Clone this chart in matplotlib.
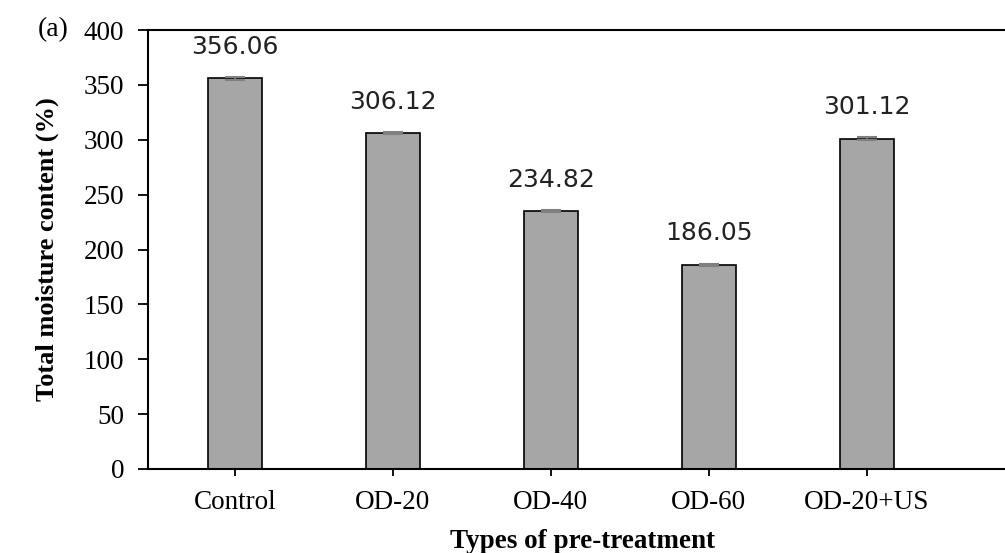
import matplotlib.pyplot as plt
import numpy as np

# moisture content per pre-treatment
treatments = ["Control", "OD-20", "OD-40", "OD-60", "OD-20+US"]
moisture = [356.06, 306.12, 234.82, 186.05, 301.12]
errors = [1.2, 1.0, 1.0, 0.8, 1.0]

serif = ["Liberation Serif", "DejaVu Serif"]

fig = plt.figure(figsize=(10.05, 5.53), dpi=100)
# axes runs a bit past the right edge of the figure
ax = fig.add_axes([148/1005, 84/553, 869/1005, 439/553])

x = np.arange(len(treatments))
ax.bar(x, moisture, width=0.34, color="#a6a6a6", edgecolor="black", linewidth=1.2, zorder=2)
ax.errorbar(x, moisture, yerr=errors, fmt="none", ecolor="#808080",
            elinewidth=1.2, capsize=7, capthick=1.5, zorder=3)

for xi, v in zip(x, moisture):
    ax.annotate(f"{v:.2f}", (xi, v), xytext=(0, 14), textcoords="offset points",
                ha="center", va="bottom", fontsize=18, family="DejaVu Sans",
                color="#222222")

ax.set_xlim(-0.55, 4.95)
ax.set_ylim(0, 400)
ax.set_yticks(np.arange(0, 401, 50))
ax.set_xticks(x)
ax.set_xticklabels(treatments)

for lbl in ax.get_xticklabels() + ax.get_yticklabels():
    lbl.set_family(serif)
    lbl.set_fontsize(19.5)

ax.tick_params(axis="y", direction="out", length=7, width=1.3, pad=10)
ax.tick_params(axis="x", direction="out", length=5, width=1.3, pad=10)

for side in ["left", "bottom", "top"]:
    ax.spines[side].set_linewidth(1.5)
ax.spines["right"].set_visible(False)

ax.set_ylabel("Total moisture content (%)", family=serif, fontsize=19,
              fontweight="bold", labelpad=18)
ax.set_xlabel("Types of pre-treatment", family=serif, fontsize=19.5,
              fontweight="bold", labelpad=10)

fig.text(38/1005, 1 - 30/553, "(a)", family=serif, fontsize=20, va="center", ha="left")

fig.savefig("out.png", dpi=100)
